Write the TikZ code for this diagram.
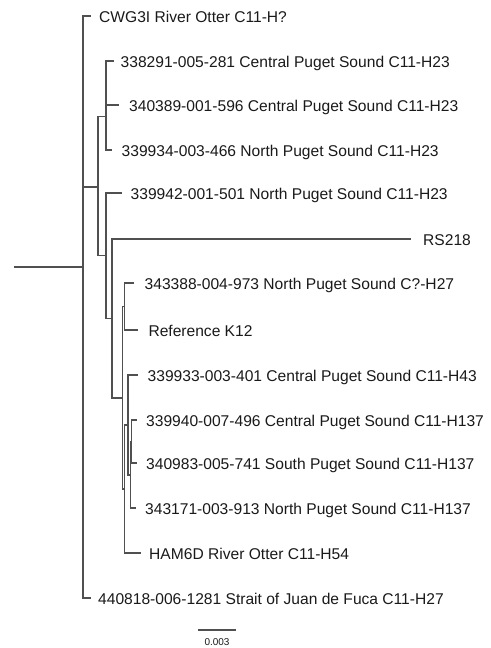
\documentclass[tikz,border=0pt]{standalone}
\usepackage{fontspec}
\setmainfont{Liberation Sans}
\definecolor{linegray}{HTML}{505050}
\definecolor{txt}{HTML}{1A1A1A}
\begin{document}
\begin{tikzpicture}[x=1bp,y=-1bp,
  br/.style={draw=linegray, line width=1.35bp, line cap=rect},
  lbl/.style={anchor=base west, inner sep=0pt, text=txt, font=\fontsize{15.65}{18}\selectfont},
  sclbl/.style={anchor=base, inner sep=0pt, text=txt, font=\fontsize{10}{12}\selectfont}]
\useasboundingbox[fill=white] (0,0) rectangle (491,648);
% internal nodes
\coordinate (root) at (15,267);
\coordinate (R) at (83,267);
\coordinate (B) at (98,187);
\coordinate (A) at (106,116.5);
\coordinate (A2) at (106,83);
\coordinate (C) at (106,255.5);
\coordinate (D) at (112,318.5);
\coordinate (E) at (122.5,398);
\coordinate (F) at (124.3,306.5);
\coordinate (G) at (124.3,489);
\coordinate (H) at (128,425);
\coordinate (I) at (130.6,475);
\coordinate (K) at (131.8,441.5);
% leaves (tip ends)
\coordinate (l1) at (90,16);
\coordinate (l2) at (113,61);
\coordinate (l3) at (118,105);
\coordinate (l4) at (111,150);
\coordinate (l5) at (121,193);
\coordinate (l6) at (410,239);
\coordinate (l7) at (133.3,283);
\coordinate (l8) at (137.7,330);
\coordinate (l9) at (137.7,375);
\coordinate (l10) at (136.7,420);
\coordinate (l11) at (136,463);
\coordinate (l12) at (135,508);
\coordinate (l13) at (140,553);
\coordinate (l14) at (90,598);
% branches
\draw[br] (root) -- (R);
\draw[br] (R) |- (l1);
\draw[br] (R) |- (B);
\draw[br] (R) |- (l14);
\draw[br] (B) |- (A);
\draw[br] (B) |- (C);
\draw[br] (A) |- (A2);
\draw[br] (A) |- (l4);
\draw[br] (A2) |- (l2);
\draw[br] (A2) |- (l3);
\draw[br] (C) |- (l5);
\draw[br] (C) |- (D);
\draw[br] (D) |- (l6);
\draw[br] (D) |- (E);
\draw[br] (E) |- (F);
\draw[br] (E) |- (G);
\draw[br] (F) |- (l7);
\draw[br] (F) |- (l8);
\draw[br] (G) |- (H);
\draw[br] (G) |- (l13);
\draw[br] (H) |- (l9);
\draw[br] (H) |- (I);
\draw[br] (I) |- (K);
\draw[br] (I) |- (l12);
\draw[br] (K) |- (l10);
\draw[br] (K) |- (l11);
% labels
\node[lbl] (t1) at (99,22.5) {CWG3I River Otter C11-H?};
\node[lbl] (t2) at (120.5,67.5) {338291-005-281 Central Puget Sound C11-H23};
\node[lbl] (t3) at (129,111.5) {340389-001-596 Central Puget Sound C11-H23};
\node[lbl] (t4) at (121.5,156.5) {339934-003-466 North Puget Sound C11-H23};
\node[lbl] (t5) at (130.5,199.5) {339942-001-501 North Puget Sound C11-H23};
\node[lbl] (t6) at (423,245.5) {RS218};
\node[lbl] (t7) at (144.5,289.5) {343388-004-973 North Puget Sound C?-H27};
\node[lbl] (t8) at (148.3,336.5) {Reference K12};
\node[lbl] (t9) at (147.5,381.5) {339933-003-401 Central Puget Sound C11-H43};
\node[lbl] (t10) at (146,426.5) {339940-007-496 Central Puget Sound C11-H137};
\node[lbl] (t11) at (146,469.5) {340983-005-741 South Puget Sound C11-H137};
\node[lbl] (t12) at (145,514.5) {343171-003-913 North Puget Sound C11-H137};
\node[lbl] (t13) at (149,559.5) {HAM6D River Otter C11-H54};
\node[lbl] (t14) at (98,604.5) {440818-006-1281 Strait of Juan de Fuca C11-H27};
% scale bar
\coordinate (s1) at (199,630);
\coordinate (s2) at (235,630);
\draw[br] (s1) -- (s2);
\node[sclbl] (st) at (217,645) {0.003};
\end{tikzpicture}
\end{document}
